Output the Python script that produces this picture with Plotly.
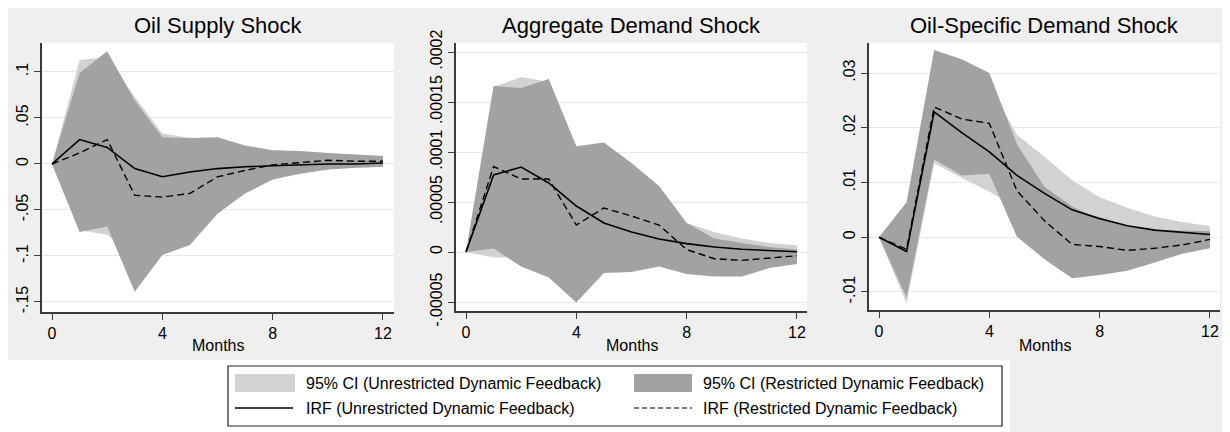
import plotly.graph_objects as go

W, H = 1230, 432

months = list(range(13))
xtick_vals = [0, 4, 8, 12]

titles = ["Oil Supply Shock", "Aggregate Demand Shock", "Oil-Specific Demand Shock"]
x_title = "Months"

# Oil Supply Shock
s_irf_u = [0, 0.0265, 0.018, -0.005, -0.0138, -0.0087, -0.005, -0.003, -0.002, -0.001, 0.0, 0.0, 0.001]
s_irf_r = [0, 0.012, 0.0265, -0.034, -0.036, -0.032, -0.014, -0.007, -0.001, 0.0015, 0.004, 0.003, 0.003]
s_up_r = [0, 0.099, 0.1225, 0.069, 0.029, 0.028, 0.029, 0.020, 0.015, 0.014, 0.012, 0.0105, 0.0087]
s_lo_r = [0, -0.074, -0.068, -0.139, -0.099, -0.088, -0.054, -0.032, -0.017, -0.0105, -0.006, -0.004, -0.003]
s_up_u = [0, 0.113, 0.116, 0.073, 0.033, 0.0285, 0.0285, 0.0195, 0.015, 0.0135, 0.0115, 0.01, 0.008]
s_lo_u = [0, -0.072, -0.077, -0.10, -0.09, -0.075, -0.05, -0.03, -0.016, -0.01, -0.006, -0.004, -0.003]

# Aggregate Demand Shock
a_irf_u = [0, 7.7e-5, 8.5e-5, 6.9e-5, 4.6e-5, 2.9e-5, 2.0e-5, 1.3e-5, 8.4e-6, 5e-6, 2.7e-6, 1.3e-6, 3e-7]
a_irf_r = [0, 8.55e-5, 7.3e-5, 7.3e-5, 2.7e-5, 4.4e-5, 3.6e-5, 2.7e-5, 2.4e-6, -6.7e-6, -8.4e-6, -6e-6, -3.7e-6]
a_up_r = [0, 1.66e-4, 1.64e-4, 1.73e-4, 1.057e-4, 1.094e-4, 8.9e-5, 6.6e-5, 2.9e-5, 1.35e-5, 9e-6, 5e-6, 2.4e-6]
a_lo_r = [0, 3.5e-6, -1.45e-5, -2.56e-5, -5.05e-5, -2.1e-5, -2.0e-5, -1.45e-5, -2.2e-5, -2.46e-5, -2.46e-5, -1.6e-5, -1.2e-5]
a_up_u = [0, 1.65e-4, 1.75e-4, 1.70e-4, 1.05e-4, 1.05e-4, 8.7e-5, 6.4e-5, 2.9e-5, 2.0e-5, 1.35e-5, 9e-6, 6.7e-6]
a_lo_u = [0, -5.5e-6, -5e-6, -1.2e-5, -2.5e-5, -1.5e-5, -1.2e-5, -8e-6, -5e-6, -3e-6, -2e-6, -1.5e-6, -1e-6]

# Oil-Specific Demand Shock
o_irf_u = [0, -0.0026, 0.0229, 0.0191, 0.0156, 0.0113, 0.008, 0.005, 0.0034, 0.0021, 0.0013, 0.0009, 0.0005]
o_irf_r = [0, -0.0022, 0.0238, 0.0216, 0.0208, 0.0085, 0.003, -0.0013, -0.0017, -0.0024, -0.002, -0.0014, -0.0004]
o_up_r = [0, 0.0064, 0.0342, 0.0325, 0.030, 0.017, 0.0092, 0.0056, 0.0032, 0.002, 0.0013, 0.0012, 0.0011]
o_lo_r = [0, -0.011, 0.0142, 0.0113, 0.0116, 0.0001, -0.004, -0.0075, -0.0069, -0.0061, -0.0046, -0.003, -0.002]
o_up_u = [0, 0.005, 0.033, 0.031, 0.028, 0.0187, 0.0147, 0.0104, 0.0073, 0.0054, 0.0038, 0.0028, 0.002]
o_lo_u = [0, -0.0121, 0.0135, 0.0108, 0.0083, 0.0055, 0.003, 0.0015, 0.0008, 0.0003, 0.0001, 0.0, 0.0]

ytick_vals = [
    [-0.15, -0.1, -0.05, 0, 0.05, 0.1],
    [-0.00005, 0, 0.00005, 0.0001, 0.00015, 0.0002],
    [-0.01, 0, 0.01, 0.02, 0.03],
]
ytick_text = [
    ["-.15", "-.1", "-.05", "0", ".05", ".1"],
    ["-.00005", "0", ".00005", ".0001", ".00015", ".0002"],
    ["-.01", "0", ".01", ".02", ".03"],
]

legend_labels = [
    "95% CI (Unrestricted Dynamic Feedback)",
    "95% CI (Restricted Dynamic Feedback)",
    "IRF (Unrestricted Dynamic Feedback)",
    "IRF (Restricted Dynamic Feedback)",
]

panels = [
    (s_up_u, s_lo_u, s_up_r, s_lo_r, s_irf_u, s_irf_r),
    (a_up_u, a_lo_u, a_up_r, a_lo_r, a_irf_u, a_irf_r),
    (o_up_u, o_lo_u, o_up_r, o_lo_r, o_irf_u, o_irf_r),
]

# geometry in page pixels (left, right, top, bottom) of each plot region
boxes = [(42, 394, 43, 312), (456, 807, 43, 311), (869, 1220, 43, 310)]
x_ranges = [(-0.3626, 12.399), (-0.3626, 12.363), (-0.3626, 12.363)]
y_ranges = [(-0.1609, 0.1315), (-0.000059, 0.000209), (-0.01329, 0.03548)]

LIGHT = "#D2D2D2"
DARK = "#A2A2A2"
BG = "#EFEFEF"
AX = "#3A3A3A"
FONT = "Liberation Sans, Arial, sans-serif"
OFF = 8  # page body margin

def px(x):
    return (x - OFF) / W

def py(y):
    return 1 - (y - OFF) / H

fig = go.Figure()
layout = {}
annotations = []
for i, (up_u, lo_u, up_r, lo_r, irf_u, irf_r) in enumerate(panels):
    sfx = "" if i == 0 else str(i + 1)
    xa, ya = "x" + sfx, "y" + sfx
    fig.add_trace(go.Scatter(x=months, y=up_u, mode="lines", line=dict(width=0, color=LIGHT),
                             xaxis=xa, yaxis=ya, showlegend=False, hoverinfo="skip"))
    fig.add_trace(go.Scatter(x=months, y=lo_u, mode="lines", line=dict(width=0, color=LIGHT),
                             fill="tonexty", fillcolor=LIGHT, xaxis=xa, yaxis=ya, showlegend=False))
    fig.add_trace(go.Scatter(x=months, y=up_r, mode="lines", line=dict(width=0, color=DARK),
                             xaxis=xa, yaxis=ya, showlegend=False, hoverinfo="skip"))
    fig.add_trace(go.Scatter(x=months, y=lo_r, mode="lines", line=dict(width=0, color=DARK),
                             fill="tonexty", fillcolor=DARK, xaxis=xa, yaxis=ya, showlegend=False))
    fig.add_trace(go.Scatter(x=months, y=irf_u, mode="lines", line=dict(width=1.6, color="black"),
                             xaxis=xa, yaxis=ya, showlegend=False))
    fig.add_trace(go.Scatter(x=months, y=irf_r, mode="lines",
                             line=dict(width=1.4, color="black", dash="7px,4px"),
                             xaxis=xa, yaxis=ya, showlegend=False))
    l, r, t, b = boxes[i]
    layout["xaxis" + sfx] = dict(
        domain=[px(l), px(r)], anchor=ya, range=list(x_ranges[i]),
        tickvals=xtick_vals, ticktext=[str(v) for v in xtick_vals],
        showgrid=False, zeroline=False, showline=True, linecolor=AX, linewidth=1.5,
        ticks="outside", ticklen=6, tickwidth=1.3, tickcolor=AX,
        tickfont=dict(size=16, color="black", family=FONT), automargin=False,
    )
    layout["yaxis" + sfx] = dict(
        domain=[py(b), py(t)], anchor=xa, range=list(y_ranges[i]),
        tickvals=ytick_vals[i], ticktext=ytick_text[i], tickangle=-90,
        showgrid=True, gridcolor="#E8E8E8", gridwidth=1.2, zeroline=False,
        showline=True, linecolor=AX, linewidth=1.5,
        ticks="outside", ticklen=6, tickwidth=1.3, tickcolor=AX,
        tickfont=dict(size=16, color="black", family=FONT), automargin=False,
    )
    annotations.append(dict(text=titles[i], x=px((l + r) / 2), y=py(26), xref="paper", yref="paper",
                            xanchor="center", yanchor="middle", showarrow=False,
                            font=dict(size=22, color="black", family=FONT)))
    annotations.append(dict(text=x_title, x=px((l + r) / 2), y=py(345), xref="paper", yref="paper",
                            xanchor="center", yanchor="middle", showarrow=False,
                            font=dict(size=16, color="black", family=FONT)))

shapes = [
    dict(type="rect", xref="paper", yref="paper", x0=0, x1=px(1010), y0=0, y1=py(360),
         fillcolor="white", line=dict(width=0), layer="below"),
    # legend frame
    dict(type="rect", xref="paper", yref="paper", x0=px(228), x1=px(1002), y0=py(426), y1=py(366),
         fillcolor="white", line=dict(width=1.2, color="#222222")),
    dict(type="rect", xref="paper", yref="paper", x0=px(235), x1=px(295), y0=py(392), y1=py(374),
         fillcolor=LIGHT, line=dict(width=0)),
    dict(type="rect", xref="paper", yref="paper", x0=px(634), x1=px(692), y0=py(392), y1=py(374),
         fillcolor=DARK, line=dict(width=0)),
    dict(type="line", xref="paper", yref="paper", x0=px(235), x1=px(293), y0=py(408), y1=py(408),
         line=dict(width=1.4, color="black")),
    dict(type="line", xref="paper", yref="paper", x0=px(634), x1=px(692), y0=py(408), y1=py(408),
         line=dict(width=1.2, color="black", dash="5px,3px")),
]
for txt, xx, yy in [(legend_labels[0], 304, 383), (legend_labels[1], 701, 383),
                    (legend_labels[2], 304, 408), (legend_labels[3], 701, 408)]:
    annotations.append(dict(text=txt, x=px(xx), y=py(yy), xref="paper", yref="paper",
                            xanchor="left", yanchor="middle", showarrow=False,
                            font=dict(size=16, color="black", family=FONT)))

fig.update_layout(
    width=W, height=H, margin=dict(l=0, r=0, t=0, b=0),
    paper_bgcolor=BG, plot_bgcolor="white", showlegend=False,
    annotations=annotations, shapes=shapes, **layout,
)
fig.write_html("out.html")
